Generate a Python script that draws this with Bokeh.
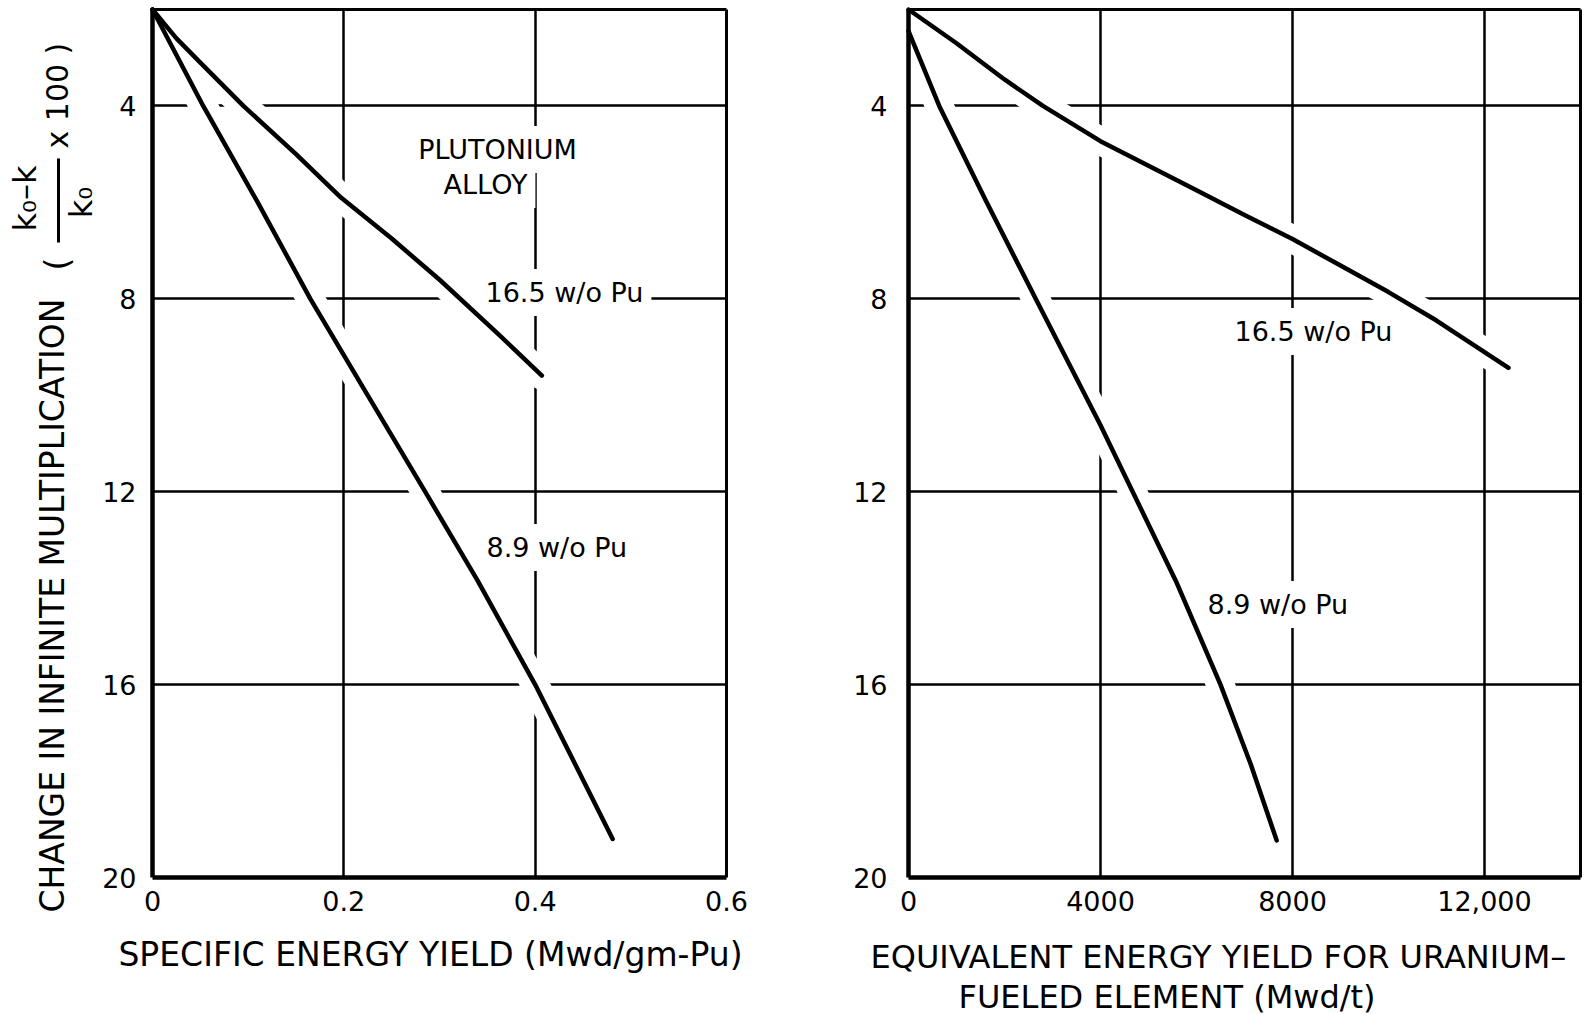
import math
from bokeh.plotting import figure
from bokeh.models import Range1d, FixedTicker, LinearAxis, Label
from bokeh.layouts import row, column
from bokeh.embed import file_html
from bokeh.resources import INLINE
from bokeh.core.properties import value

# ---------------- data ----------------
y_ticks = [4, 8, 12, 16, 20]

left_x_ticks = [0, 0.2, 0.4, 0.6]
left_x_tick_labels = ["0", "0.2", "0.4", "0.6"]
right_x_ticks = [0, 4000, 8000, 12000]
right_x_tick_labels = ["0", "4000", "8000", "12,000"]

# specific energy yield (Mwd/gm-Pu) vs change in k (%)
pu165_left_x = [0, 0.025, 0.05, 0.095, 0.15, 0.197, 0.25, 0.301, 0.364, 0.407]
pu165_left_y = [2.0, 2.6, 3.1, 4.0, 5.0, 5.9, 6.75, 7.62, 8.78, 9.59]
pu89_left_x = [0, 0.053, 0.11, 0.165, 0.225, 0.285, 0.34, 0.40, 0.44, 0.481]
pu89_left_y = [2.0, 4.0, 6.0, 8.0, 10.0, 12.0, 13.85, 16.0, 17.58, 19.2]

# equivalent energy yield for U-fueled element (Mwd/t)
pu165_right_x = [0, 1000, 2000, 2800, 4000, 5000, 6000, 7000, 8000, 9000, 10000, 11000, 12500]
pu165_right_y = [2.0, 2.7, 3.45, 4.0, 4.73, 5.24, 5.75, 6.26, 6.76, 7.31, 7.86, 8.45, 9.43]
pu89_right_x = [0, 640, 1610, 2650, 3990, 4670, 5570, 6500, 7130, 7670]
pu89_right_y = [2.45, 4.0, 5.96, 8.0, 10.6, 12.0, 13.85, 16.0, 17.65, 19.23]

y_label_main = "CHANGE IN INFINITE MULTIPLICATION"
y_label_open = "("
y_label_num = "k\u2080\u2013k"
y_label_den = "k\u2080"
y_label_tail = "x 100 )"
left_x_label = "SPECIFIC ENERGY YIELD (Mwd/gm-Pu)"
right_x_label_1 = "EQUIVALENT ENERGY YIELD FOR URANIUM\u2013"
right_x_label_2 = "FUELED ELEMENT (Mwd/t)"
series_165 = "16.5 w/o Pu"
series_89 = "8.9 w/o Pu"
alloy_1 = "PLUTONIUM"
alloy_2 = "ALLOY"

# ---------------- layout ----------------
FONT = "DejaVu Sans"
PAGE_W, PAGE_H = 1589, 1014
ROW_H = 935                 # height of the row holding the two panels
TOP, BOTTOM = 9, 877        # frame top / bottom (page px)
YLAB_W = 99                 # strip for the composed y-axis title
L1, R1 = 152, 726           # left panel frame (page px)
P1_END = 820
L2, R2 = 908, 1580          # right panel frame (page px)
Y0, Y1 = 2, 20


def make_fig(start, end, left, right, xmax):
    p = figure(width=end - start, height=ROW_H, x_range=Range1d(0, xmax), y_range=Range1d(Y1, Y0),
               output_backend="svg", toolbar_location=None,
               min_border_left=left - start, min_border_right=end - right,
               min_border_top=TOP, min_border_bottom=ROW_H - BOTTOM)
    p.outline_line_color = None
    p.background_fill_color = "white"
    p.border_fill_color = "white"
    bx, ly = p.below[0], p.left[0]
    for ax in (bx, ly):
        ax.axis_line_width = 4.5
        ax.axis_line_color = "black"
        ax.major_tick_line_color = None
        ax.minor_tick_line_color = None
        ax.major_tick_out = 0
        ax.major_tick_in = 0
        ax.minor_tick_out = 0
        ax.minor_tick_in = 0
        ax.major_label_text_font = FONT
        ax.major_label_text_font_size = "27px"
        ax.major_label_text_color = "black"
    ly.ticker = FixedTicker(ticks=y_ticks)
    bx.major_label_standoff = 13
    for g in (p.xgrid[0], p.ygrid[0]):
        g.grid_line_color = "black"
        g.grid_line_width = 2.5
        g.grid_line_alpha = 1.0
    for side in ("above", "right"):
        ax = LinearAxis(ticker=FixedTicker(ticks=[]), axis_line_width=3, axis_line_color="black",
                        major_tick_out=0, major_tick_in=0, minor_tick_out=0, minor_tick_in=0,
                        major_label_standoff=0, major_tick_line_color=None,
                        minor_tick_line_color=None, major_label_text_font_size="1px")
        p.add_layout(ax, side)
    return p


def curve(p, xs, ys):
    p.line(xs, ys, line_color="white", line_width=28, line_cap="round", line_join="round")
    p.line(xs, ys, line_color="black", line_width=4.5, line_cap="round", line_join="round",
           level="overlay")


def mapper(left, right, xmax):
    def f(px, py):
        x = (px - left) * xmax / (right - left)
        y = Y0 + (py - TOP) * (Y1 - Y0) / (BOTTOM - TOP)
        return x, y
    return f


PAD = 8
def boxed(p, conv, px, py, t, size, align="left"):
    # Label box is anchored at its padded corner: compensate so the glyphs land at (px, py)
    dx = -PAD - 1 if align == "left" else 0
    x, y = conv(px + dx, py - 11)
    p.add_layout(Label(x=x, y=y, text=t, text_font=FONT, text_font_size=f"{size}px",
                       text_color="black", text_align=align, text_baseline="alphabetic",
                       background_fill_color="white", padding=PAD))


def free_text(p, xs, ys, texts, size, align="left", angle=0.0):
    # (xs, ys) is the centre line of the capitals
    p.text(x=xs, y=ys, text=texts, angle=angle, text_font=value(FONT),
           text_font_size=value(f"{size}px"), text_color="black",
           text_align=align, text_baseline="middle")


def blank(width, height, x0, y0):
    p = figure(width=width, height=height, x_range=Range1d(x0, x0 + width),
               y_range=Range1d(y0 + height, y0), output_backend="svg", toolbar_location=None,
               x_axis_type=None, y_axis_type=None, min_border=0, frame_align=False)
    p.grid.visible = False
    p.outline_line_color = None
    p.background_fill_color = "white"
    p.border_fill_color = "white"
    return p


# ---------------- y-axis title strip ----------------
py = blank(YLAB_W, ROW_H, 0, 0)
rot = math.pi / 2
free_text(py, [52], [912], [y_label_main], 33, angle=rot)
free_text(py, [57], [270], [y_label_open], 33, angle=rot)
free_text(py, [24], [198], [y_label_num], 32, align="center", angle=rot)
free_text(py, [80], [202], [y_label_den], 32, align="center", angle=rot)
free_text(py, [57], [148], [y_label_tail], 30, angle=rot)
py.segment(x0=[58], y0=[158], x1=[58], y1=[242], line_color="black", line_width=3)

# ---------------- left panel ----------------
p1 = make_fig(YLAB_W, P1_END, L1, R1, 0.6)
p1.below[0].ticker = FixedTicker(ticks=left_x_ticks)
p1.below[0].major_label_overrides = dict(zip(left_x_ticks, left_x_tick_labels))
p1.left[0].major_label_standoff = 16
c1 = mapper(L1, R1, 0.6)

curve(p1, pu165_left_x, pu165_left_y)
curve(p1, pu89_left_x, pu89_left_y)

boxed(p1, c1, 497, 160, alloy_1, 27, align="center")
boxed(p1, c1, 485, 195, alloy_2, 27, align="center")
boxed(p1, c1, 486, 303, series_165, 27)
boxed(p1, c1, 487, 558, series_89, 27)

# ---------------- right panel ----------------
p2 = make_fig(P1_END, PAGE_W, L2, R2, 14000)
p2.below[0].ticker = FixedTicker(ticks=right_x_ticks)
p2.below[0].major_label_overrides = dict(zip(right_x_ticks, right_x_tick_labels))
p2.left[0].major_label_standoff = 21
c2 = mapper(L2, R2, 14000)

curve(p2, pu165_right_x, pu165_right_y)
curve(p2, pu89_right_x, pu89_right_y)

boxed(p2, c2, 1235, 342, series_165, 27)
boxed(p2, c2, 1208, 615, series_89, 27)

# ---------------- x-axis titles strip ----------------
px_ = blank(PAGE_W, PAGE_H - ROW_H, 0, ROW_H)
free_text(px_, [430], [954], [left_x_label], 33, align="center")
free_text(px_, [870], [956], [right_x_label_1], 32)
free_text(px_, [958], [996], [right_x_label_2], 32)

layout = column(row(py, p1, p2), px_)
open("out.html", "w").write(file_html(layout, INLINE))
